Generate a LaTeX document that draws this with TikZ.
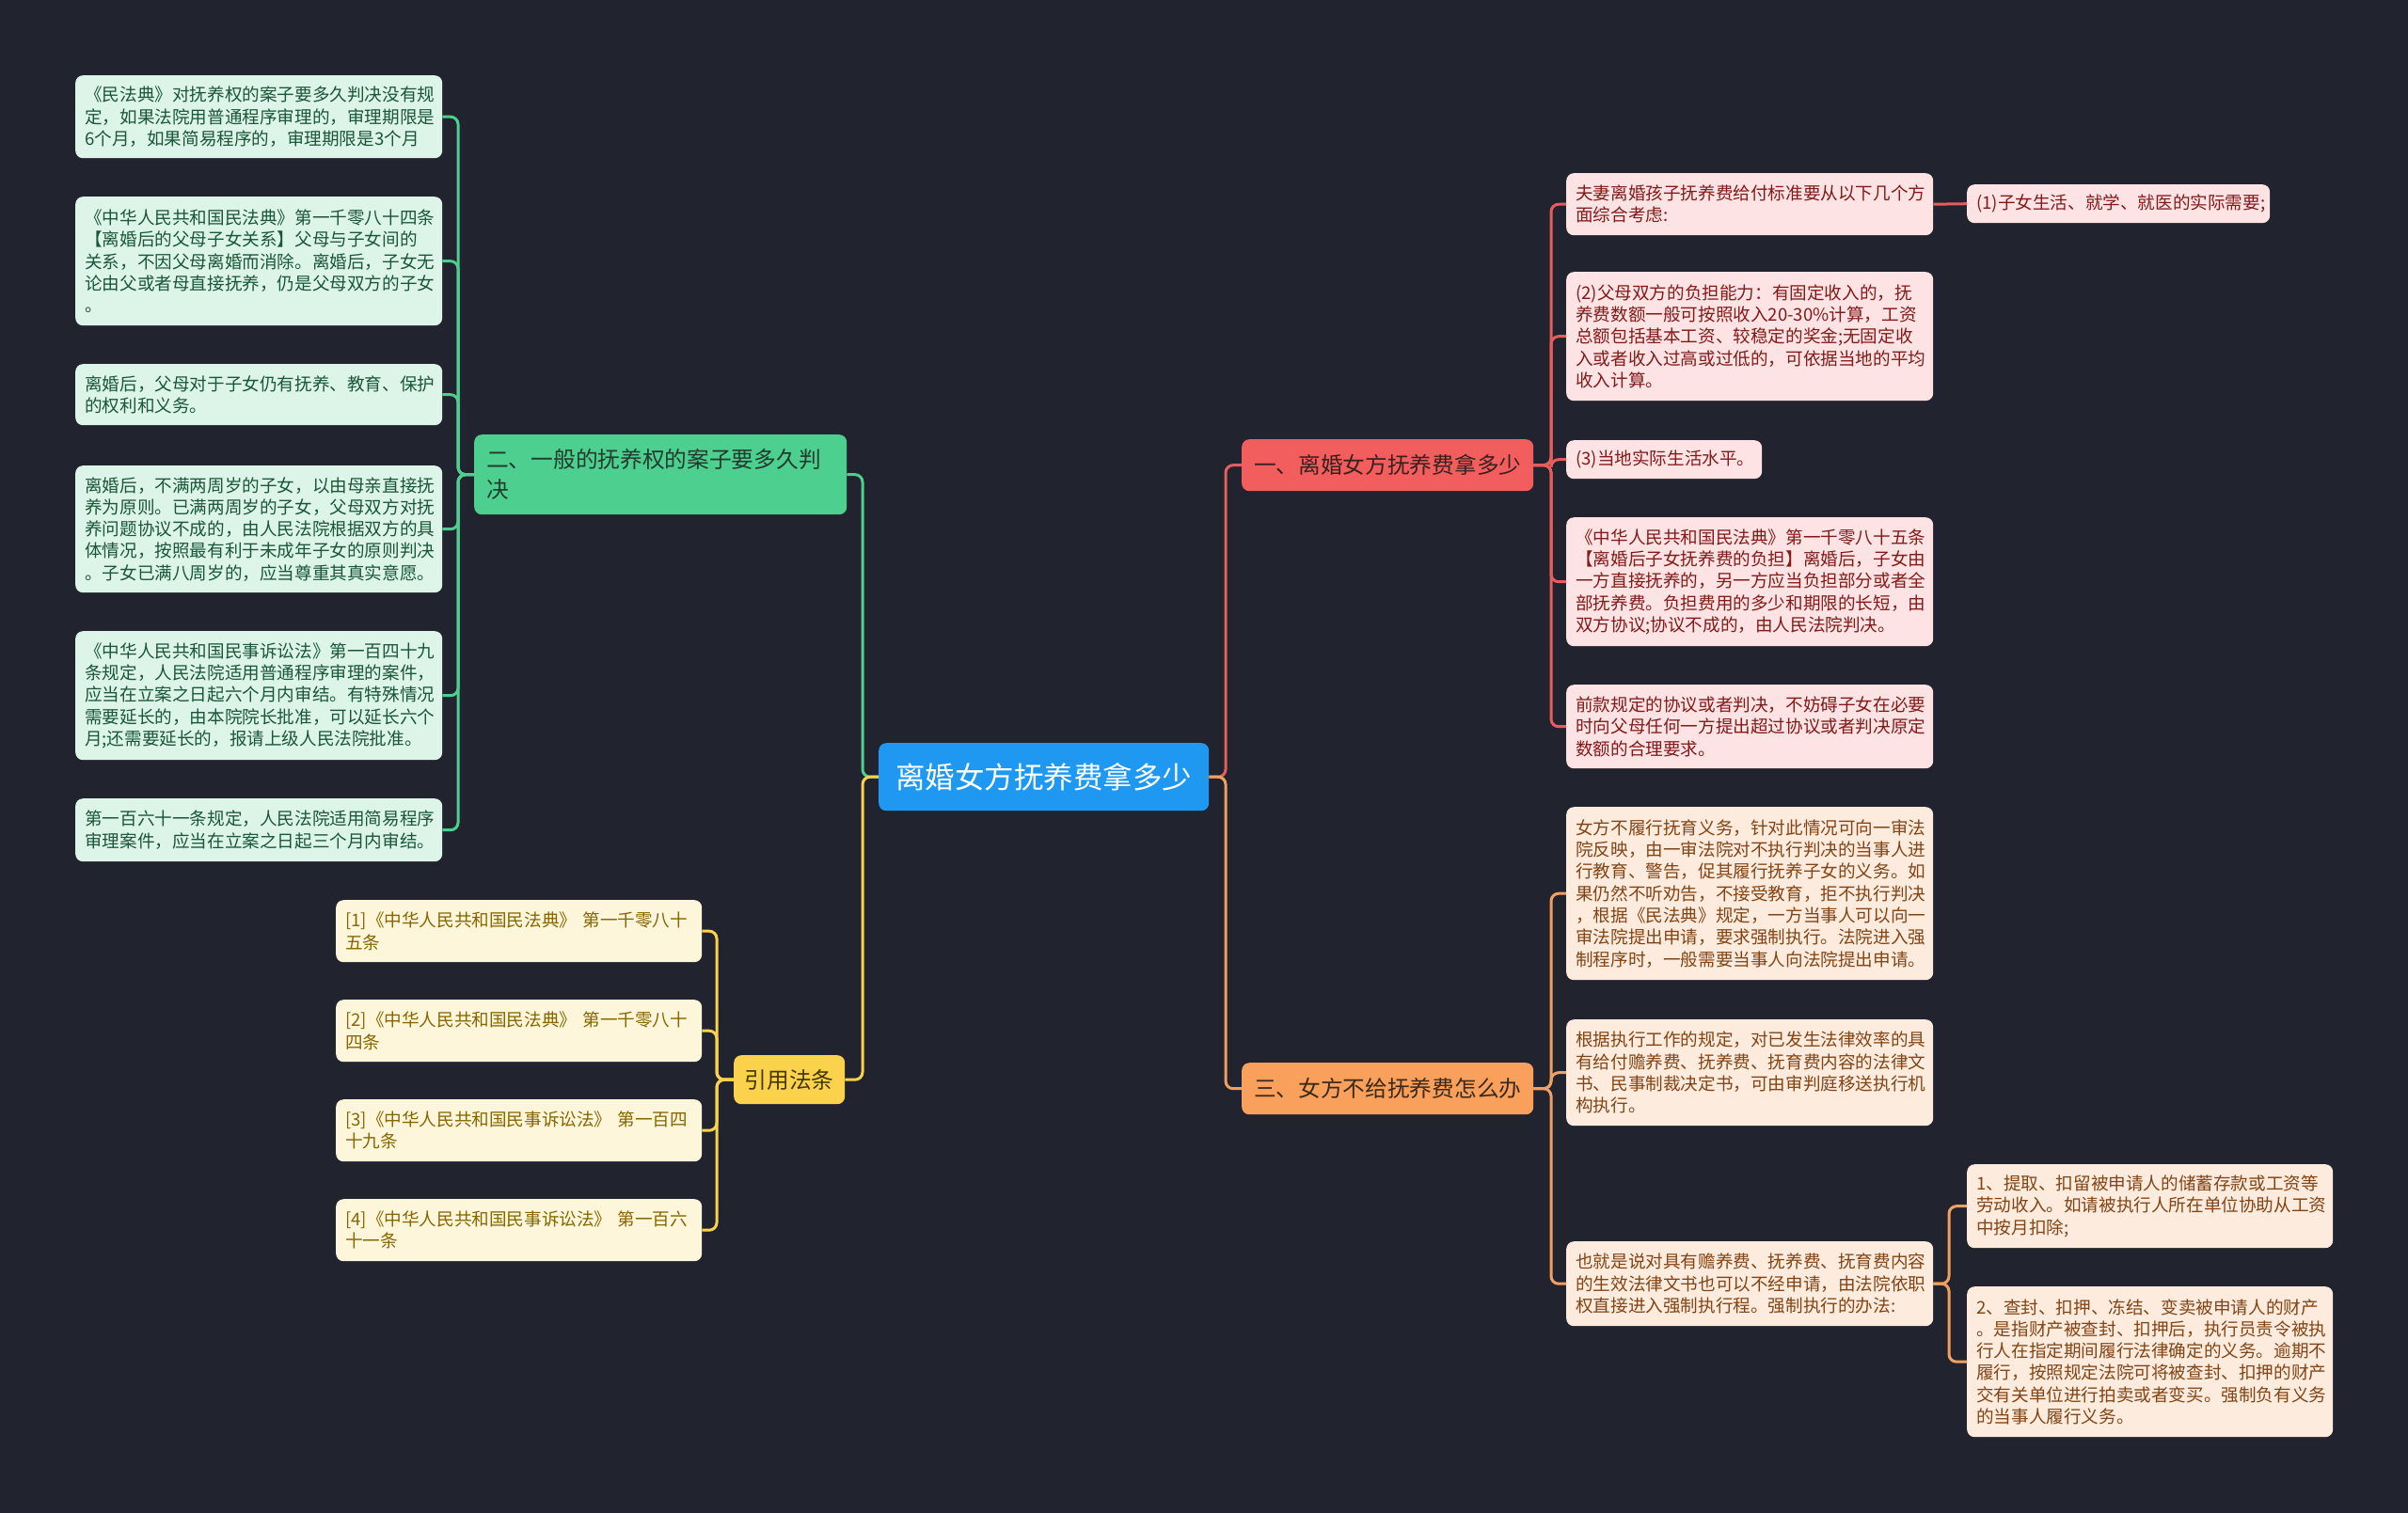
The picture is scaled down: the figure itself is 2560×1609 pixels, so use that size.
\documentclass[tikz,border=0pt]{standalone}
\usepackage{fontspec}
\setmainfont{Noto Sans CJK SC}
\exhyphenpenalty=10000
\hyphenpenalty=10000
\definecolor{bg}{RGB}{33,36,47}
\definecolor{cfill}{RGB}{30,152,240}
\definecolor{gbr}{RGB}{77,207,143}
\definecolor{gfill}{RGB}{221,245,233}
\definecolor{gtext}{RGB}{26,86,55}
\definecolor{gbtext}{RGB}{35,58,46}
\definecolor{ybr}{RGB}{250,210,75}
\definecolor{yfill}{RGB}{253,246,218}
\definecolor{ytext}{RGB}{135,102,0}
\definecolor{ybtext}{RGB}{70,55,0}
\definecolor{rbr}{RGB}{242,94,94}
\definecolor{rfill}{RGB}{253,227,227}
\definecolor{rtext}{RGB}{130,26,26}
\definecolor{rbtext}{RGB}{59,32,32}
\definecolor{rline}{RGB}{232,92,92}
\definecolor{obr}{RGB}{248,160,92}
\definecolor{ofill}{RGB}{253,235,222}
\definecolor{otext}{RGB}{130,68,20}
\definecolor{obtext}{RGB}{59,42,26}
\definecolor{oline}{RGB}{240,160,96}
\begin{document}
\begin{tikzpicture}[x=1pt,y=-1pt,
  box/.style={rounded corners=8pt, inner xsep=10pt, inner ysep=0pt, anchor=north west, align=left},
  leaf/.style={box, font=\fontsize{18.6}{23.3}\selectfont},
  gleaf/.style={leaf, fill=gfill, text=gtext},
  yleaf/.style={leaf, fill=yfill, text=ytext},
  rleaf/.style={leaf, fill=rfill, text=rtext},
  oleaf/.style={leaf, fill=ofill, text=otext},
  branch/.style={box, font=\fontsize{23.7}{32}\selectfont},
  conn/.style={line width=3pt, rounded corners=8pt},
  gconn/.style={conn, draw=gbr},
  yconn/.style={conn, draw=ybr},
  rconn/.style={conn, draw=rline},
  oconn/.style={conn, draw=oline}]
\fill[bg] (0,0) rectangle (2560,1609);
\useasboundingbox (0,0) rectangle (2560,1609);

% spine coordinates
\coordinate (gs) at (487,0);
\coordinate (cl) at (917,0);
\coordinate (ys) at (762,0);
\coordinate (cr) at (1303,0);
\coordinate (rs) at (1649,0);
\coordinate (os) at (1649,0);
\coordinate (os2) at (2072,0);

% central
\node[box, fill=cfill, text=white, align=center, text width=331pt, minimum height=72pt,
  font=\fontsize{31.5}{38}\selectfont] (c) at (934,790) {离婚女方抚养费拿多少};

% green branch
\node[branch, fill=gbr, text=gbtext, inner xsep=13pt, text width=370pt, minimum height=85pt] (gb) at (504,462)
  {二、一般的抚养权的案子要多久判\\决};
\node[gleaf, text width=370pt, minimum height=88pt] (g1) at (80,80)
  {《民法典》对抚养权的案子要多久判决没有规\\定，如果法院用普通程序审理的，审理期限是\\6个月，如果简易程序的，审理期限是3个月};
\node[gleaf, text width=370pt, minimum height=137pt] (g2) at (80,209)
  {《中华人民共和国民法典》第一千零八十四条\\【离婚后的父母子女关系】父母与子女间的\\关系，不因父母离婚而消除。离婚后，子女无\\论由父或者母直接抚养，仍是父母双方的子女\\。};
\node[gleaf, text width=370pt, minimum height=65pt] (g3) at (80,387)
  {离婚后，父母对于子女仍有抚养、教育、保护\\的权利和义务。};
\node[gleaf, text width=370pt, minimum height=135pt] (g4) at (80,495)
  {离婚后，不满两周岁的子女，以由母亲直接抚\\养为原则。已满两周岁的子女，父母双方对抚\\养问题协议不成的，由人民法院根据双方的具\\体情况，按照最有利于未成年子女的原则判决\\。子女已满八周岁的，应当尊重其真实意愿。};
\node[gleaf, text width=370pt, minimum height=137pt] (g5) at (80,671)
  {《中华人民共和国民事诉讼法》第一百四十九\\条规定，人民法院适用普通程序审理的案件，\\应当在立案之日起六个月内审结。有特殊情况\\需要延长的，由本院院长批准，可以延长六个\\月;还需要延长的，报请上级人民法院批准。};
\node[gleaf, text width=370pt, minimum height=67pt] (g6) at (80,849)
  {第一百六十一条规定，人民法院适用简易程序\\审理案件，应当在立案之日起三个月内审结。};

% yellow branch
\node[branch, fill=ybr, text=ybtext, align=center, text width=98pt, minimum height=52pt] (yb) at (780,1122) {引用法条};
\node[yleaf, text width=369pt, minimum height=66pt] (y1) at (357,957)
  {[1]《中华人民共和国民法典》~第一千零八十\\五条};
\node[yleaf, text width=369pt, minimum height=66pt] (y2) at (357,1063)
  {[2]《中华人民共和国民法典》~第一千零八十\\四条};
\node[yleaf, text width=369pt, minimum height=66pt] (y3) at (357,1169)
  {[3]《中华人民共和国民事诉讼法》~第一百四\\十九条};
\node[yleaf, text width=369pt, minimum height=66pt] (y4) at (357,1275)
  {[4]《中华人民共和国民事诉讼法》~第一百六\\十一条};

% red branch
\node[branch, fill=rbr, text=rbtext, align=center, text width=290pt, minimum height=55pt] (rb) at (1320,467) {一、离婚女方抚养费拿多少};
\node[rleaf, text width=370pt, minimum height=66pt] (r1) at (1665,184)
  {夫妻离婚孩子抚养费给付标准要从以下几个方\\面综合考虑:};
\node[rleaf, text width=302pt, minimum height=41pt] (r1c) at (2091,196)
  {(1)子女生活、就学、就医的实际需要;};
\node[rleaf, text width=370pt, minimum height=137pt] (r2) at (1665,289)
  {(2)父母双方的负担能力：有固定收入的，抚\\养费数额一般可按照收入20-30\%计算，工资\\总额包括基本工资、较稳定的奖金;无固定收\\入或者收入过高或过低的，可依据当地的平均\\收入计算。};
\node[rleaf, text width=188pt, minimum height=41pt] (r3) at (1665,468)
  {(3)当地实际生活水平。};
\node[rleaf, text width=370pt, minimum height=137pt] (r4) at (1665,550)
  {《中华人民共和国民法典》第一千零八十五条\\【离婚后子女抚养费的负担】离婚后，子女由\\一方直接抚养的，另一方应当负担部分或者全\\部抚养费。负担费用的多少和期限的长短，由\\双方协议;协议不成的，由人民法院判决。};
\node[rleaf, text width=370pt, minimum height=89pt] (r5) at (1665,728)
  {前款规定的协议或者判决，不妨碍子女在必要\\时向父母任何一方提出超过协议或者判决原定\\数额的合理要求。};

% orange branch
\node[branch, fill=obr, text=obtext, align=center, text width=290pt, minimum height=55pt] (ob) at (1320,1130) {三、女方不给抚养费怎么办};
\node[oleaf, text width=370pt, minimum height=184pt] (o1) at (1665,858)
  {女方不履行抚育义务，针对此情况可向一审法\\院反映，由一审法院对不执行判决的当事人进\\行教育、警告，促其履行抚养子女的义务。如\\果仍然不听劝告，不接受教育，拒不执行判决\\，根据《民法典》规定，一方当事人可以向一\\审法院提出申请，要求强制执行。法院进入强\\制程序时，一般需要当事人向法院提出申请。};
\node[oleaf, text width=370pt, minimum height=113pt] (o2) at (1665,1084)
  {根据执行工作的规定，对已发生法律效率的具\\有给付赡养费、抚养费、抚育费内容的法律文\\书、民事制裁决定书，可由审判庭移送执行机\\构执行。};
\node[oleaf, text width=370pt, minimum height=90pt] (o3) at (1665,1320)
  {也就是说对具有赡养费、抚养费、抚育费内容\\的生效法律文书也可以不经申请，由法院依职\\权直接进入强制执行程。强制执行的办法:};
\node[oleaf, text width=369pt, minimum height=89pt] (o3a) at (2091,1238)
  {1、提取、扣留被申请人的储蓄存款或工资等\\劳动收入。如请被执行人所在单位协助从工资\\中按月扣除;};
\node[oleaf, text width=369pt, minimum height=160pt] (o3b) at (2091,1368)
  {2、查封、扣押、冻结、变卖被申请人的财产\\。是指财产被查封、扣押后，执行员责令被执\\行人在指定期间履行法律确定的义务。逾期不\\履行，按照规定法院可将被查封、扣押的财产\\交有关单位进行拍卖或者变买。强制负有义务\\的当事人履行义务。};

% connectors
\draw[gconn] (c.west) -- (cl |- c.west) |- (gb.east);
\draw[yconn] (c.west) -- (cl |- c.west) |- (yb.east);
\draw[rconn] (c.east) -- (cr |- c.east) |- (rb.west);
\draw[oconn] (c.east) -- (cr |- c.east) |- (ob.west);
\foreach \n in {g1,g2,g3,g4,g5,g6}
  \draw[gconn] (gb.west) -- (gs |- gb.west) |- (\n.east);
\foreach \n in {y1,y2,y3,y4}
  \draw[yconn] (yb.west) -- (ys |- yb.west) |- (\n.east);
\foreach \n in {r1,r2,r4,r5}
  \draw[rconn] (rb.east) -- (rs |- rb.east) |- (\n.west);
\draw[rconn] (rb.east) -- (rs |- rb.east) -- (rs |- r3.west) -- (r3.west);
\draw[rconn] (r1.east) -- (r1c.west);
\foreach \n in {o1,o2,o3}
  \draw[oconn] (ob.east) -- (os |- ob.east) |- (\n.west);
\foreach \n in {o3a,o3b}
  \draw[oconn] (o3.east) -- (os2 |- o3.east) |- (\n.west);
\end{tikzpicture}
\end{document}
